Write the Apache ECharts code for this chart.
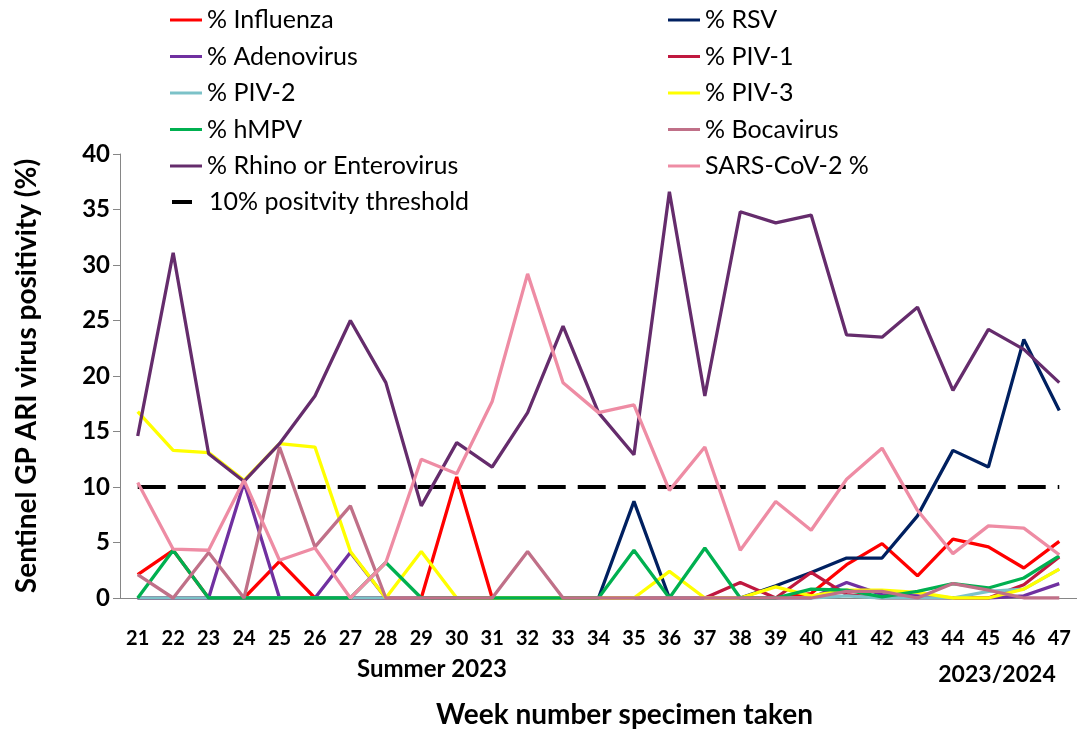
<!DOCTYPE html>
<html>
<head>
<meta charset="utf-8">
<script src="https://cdn.jsdelivr.net/npm/echarts@6/dist/echarts.min.js"></script>
<style>
html,body{margin:0;padding:0;background:#fff;}
#chart{width:1077px;height:734px;}
</style>
</head>
<body>
<div id="chart"></div>
<script>
const weeks = ['21','22','23','24','25','26','27','28','29','30','31','32','33','34','35','36','37','38','39','40','41','42','43','44','45','46','47'];
const influenza = [2.1,4.3,0,0,3.3,0,0,0,0,10.9,0,0,0,0,0,0,0,0,0,0.4,3.0,4.9,2.0,5.3,4.6,2.7,5.1];
const rsv = [0,0,0,0,0,0,0,0,0,0,0,0,0,0,8.7,0,0,0,1.1,2.3,3.6,3.6,7.4,13.3,11.8,23.3,16.9];
const adenovirus = [0,0,0,10.4,0,0,4.1,0,0,0,0,0,0,0,0,0,0,0,0,0,1.4,0.3,0.2,0,0,0.2,1.3];
const piv1 = [0,0,0,0,0,0,0,0,0,0,0,0,0,0,0,0,0,1.4,0,2.3,0.3,0,0,0,0,1.2,3.7];
const piv2 = [0,0,0,0,0,0,0,0,0,0,0,0,0,0,0,0,0,0,0,0,0.2,0,0,0,0.6,0.8,2.6];
const piv3 = [16.8,13.3,13.1,10.6,13.9,13.6,4.2,0,4.2,0,0,0,0,0,0,2.4,0,0,1.0,0.2,0.7,0.7,0.5,0,0,0.8,2.6];
const hmpv = [0,4.3,0,0,0,0,0,3.2,0,0,0,0,0,0,4.3,0,4.5,0,0,0.8,0.7,0.1,0.6,1.3,0.9,1.8,3.8];
const bocavirus = [2.1,0,4.1,0,13.6,4.6,8.3,0,0,0,0,4.2,0,0,0,0,0,0,0,0,0.6,0.6,0,1.3,0.7,0,0];
const rhino = [14.6,31.1,13.0,10.5,13.9,18.2,25.0,19.4,8.3,14.0,11.8,16.7,24.5,16.7,12.9,36.6,18.2,34.8,33.8,34.5,23.7,23.5,26.2,18.7,24.2,22.4,19.4];
const sars = [10.4,4.4,4.3,10.6,3.4,4.5,0,3.2,12.5,11.2,17.7,29.2,19.4,16.7,17.4,9.7,13.6,4.3,8.7,6.1,10.7,13.5,7.9,4.0,6.5,6.3,3.9];
const threshold = weeks.map(() => 10);
const yTicks = {min: 0, max: 40, interval: 5};

const FONT = 'Lato, "Open Sans", sans-serif';
const defs = [
  ['% Influenza', influenza, '#FF0000'],
  ['% RSV', rsv, '#002060'],
  ['% Adenovirus', adenovirus, '#7030A0'],
  ['% PIV-1', piv1, '#C0183F'],
  ['% PIV-2', piv2, '#7CC2C8'],
  ['% PIV-3', piv3, '#FFFF00'],
  ['% hMPV', hmpv, '#00B050'],
  ['% Bocavirus', bocavirus, '#C07088'],
  ['% Rhino or Enterovirus', rhino, '#652C6C'],
  ['SARS-CoV-2 %', sars, '#EE8CA4']
];
const series = defs.map(d => ({
  name: d[0], type: 'line', data: d[1], symbol: 'none', showSymbol: false,
  lineStyle: {color: d[2], width: 3.3}, itemStyle: {color: d[2]}, z: 3
}));
series.push({
  name: '10% positvity threshold', type: 'line', data: threshold, symbol: 'none',
  lineStyle: {color: '#000', width: 4, type: [28, 12]}, itemStyle: {color: '#000'}, z: 2
});

const legendText = {fontFamily: FONT, fontSize: 25, color: '#000'};
const chart = echarts.init(document.getElementById('chart'));
chart.setOption({
  animation: false,
  backgroundColor: '#fff',
  grid: {left: 120, width: 958, top: 154, bottom: 135, containLabel: false},
  legend: [
    {orient: 'vertical', left: 170, top: 6, itemWidth: 32, itemHeight: 3, itemGap: 8.5, icon: 'rect', padding: 0,
     textStyle: Object.assign({}, legendText, {height: 28, lineHeight: 28}),
     data: ['% Influenza', '% Adenovirus', '% PIV-2', '% hMPV', '% Rhino or Enterovirus']},
    {orient: 'vertical', left: 668, top: 6, itemWidth: 32, itemHeight: 3, itemGap: 8.5, icon: 'rect', padding: 0,
     textStyle: Object.assign({}, legendText, {height: 28, lineHeight: 28}),
     data: ['% RSV', '% PIV-1', '% PIV-3', '% Bocavirus', 'SARS-CoV-2 %']},
    {orient: 'vertical', left: 172, top: 188, itemWidth: 20, itemHeight: 4, icon: 'rect', padding: 0,
     textStyle: Object.assign({}, legendText, {height: 28, lineHeight: 28, padding: [0, 0, 0, 12]}),
     data: ['10% positvity threshold']}
  ],
  xAxis: {
    type: 'category', data: weeks, boundaryGap: true,
    axisLine: {lineStyle: {color: '#868686', width: 1}},
    axisTick: {length: 7, lineStyle: {color: '#868686'}},
    axisLabel: {fontFamily: FONT, fontWeight: 'bold', fontSize: 20, color: '#000', interval: 0,
      lineHeight: 22, formatter: v => '\n' + v},
    name: 'Week number specimen taken', nameLocation: 'middle', nameGap: 103,
    nameTextStyle: {fontFamily: FONT, fontWeight: 'bold', fontSize: 28, color: '#000', padding: [0, 0, 0, 52]}
  },
  yAxis: {
    type: 'value', min: yTicks.min, max: yTicks.max, interval: yTicks.interval,
    splitLine: {show: false},
    axisLine: {show: true, lineStyle: {color: '#868686', width: 1}},
    axisTick: {show: true, length: 7, lineStyle: {color: '#868686'}},
    axisLabel: {fontFamily: FONT, fontWeight: 'bold', fontSize: 24, color: '#000', margin: 10},
    name: 'Sentinel GP ARI virus positivity (%)', nameLocation: 'middle', nameRotate: 90, nameGap: 79,
    nameTextStyle: {fontFamily: FONT, fontWeight: 'bold', fontSize: 28, color: '#000'}
  },
  graphic: [
    {type: 'text', style: {text: 'Summer 2023', fontFamily: FONT, fontWeight: 'bold', fontSize: 24, fill: '#000', textAlign: 'center', textVerticalAlign: 'middle', x: 432, y: 669}},
    {type: 'text', style: {text: '2023/2024', fontFamily: FONT, fontWeight: 'bold', fontSize: 23, fill: '#000', textAlign: 'center', textVerticalAlign: 'middle', x: 997, y: 675}}
  ],
  series: series
});
</script>
</body>
</html>
